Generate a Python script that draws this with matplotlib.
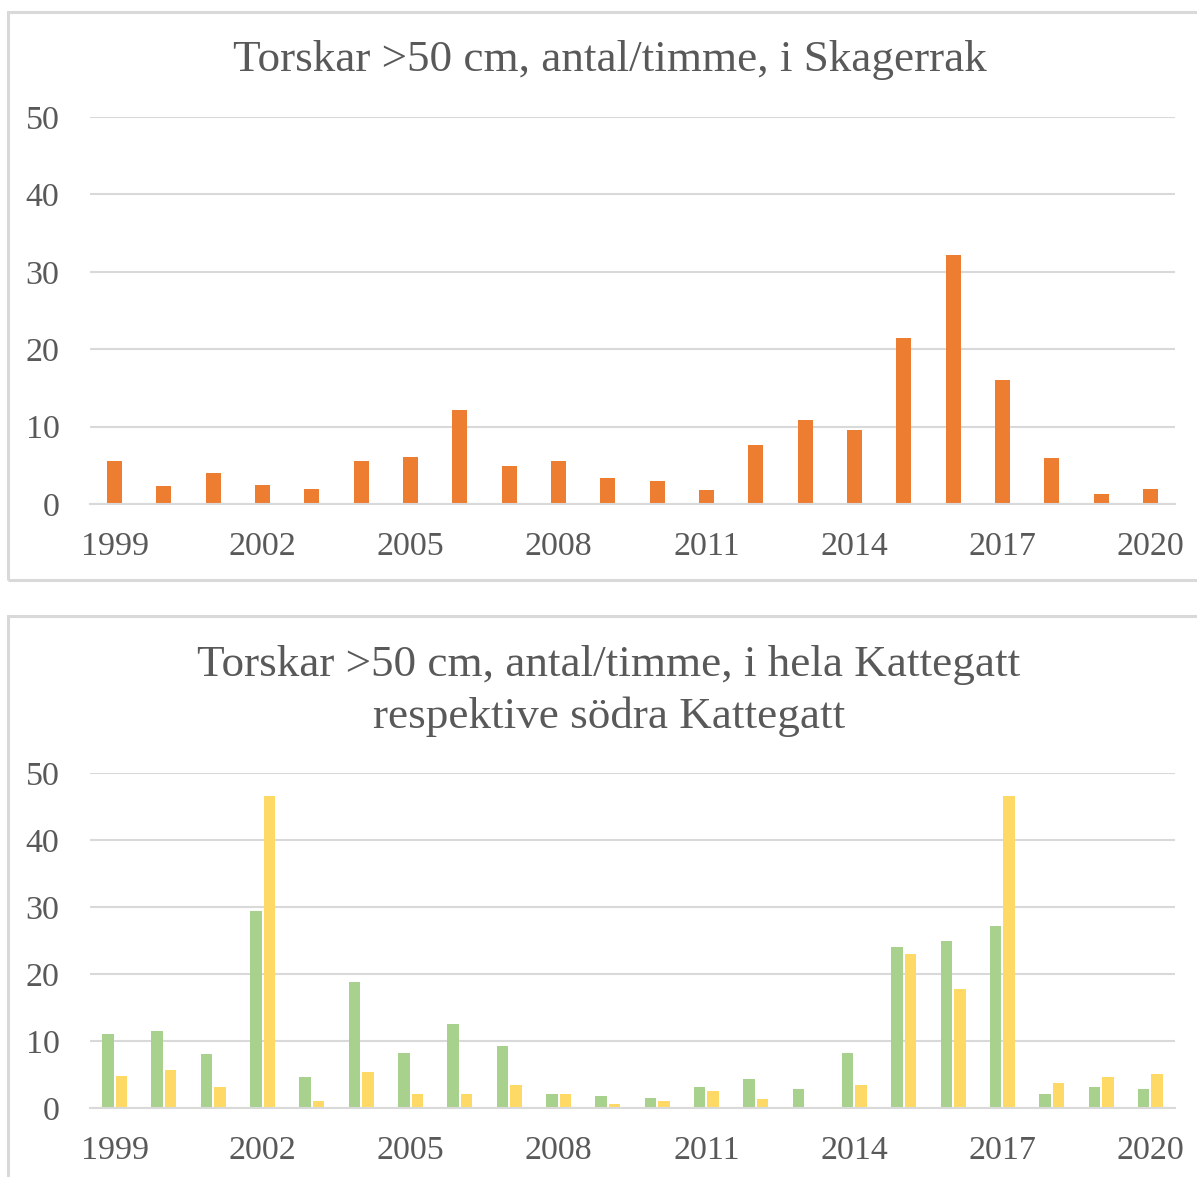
import numpy as np
import matplotlib
matplotlib.use("Agg")
import matplotlib.pyplot as plt
from matplotlib.patches import Rectangle

# data
years = list(range(1999, 2021))
skagerrak = [5.6, 2.3, 4.0, 2.5, 2.0, 5.6, 6.1, 12.2, 4.9, 5.6, 3.4,
             3.0, 1.8, 7.6, 10.9, 9.5, 21.4, 32.2, 16.0, 5.9, 1.3, 2.0]
kattegatt_hela = [11.0, 11.5, 8.0, 29.4, 4.6, 18.8, 8.2, 12.6, 9.3, 2.1, 1.8,
                  1.5, 3.2, 4.3, 2.9, 8.2, 24.1, 24.9, 27.2, 2.1, 3.2, 2.9]
kattegatt_sodra = [4.8, 5.7, 3.2, 46.5, 1.0, 5.4, 2.1, 2.1, 3.5, 2.1, 0.6,
                   1.0, 2.6, 1.3, 0.15, 3.5, 23.0, 17.7, 46.5, 3.7, 4.6, 5.1]
yticks = [0, 10, 20, 30, 40, 50]
title_top = "Torskar >50 cm, antal/timme, i Skagerrak"
title_bottom = ["Torskar >50 cm, antal/timme, i hela Kattegatt",
                "respektive södra Kattegatt"]

W, H = 1197, 1177
TEXT = "#595959"
GRID = "#d9d9d9"
plt.rcParams['font.family'] = ['Liberation Serif', 'DejaVu Serif']

fig = plt.figure(figsize=(W / 100, H / 100), dpi=100)


def fx(px):
    return px / W


def fy(py):
    return 1 - py / H


# panel borders
for x0, y0, x1, y1 in [(8, 12, 1213, 580), (8, 616, 1213, 1190)]:
    fig.patches.append(Rectangle((fx(x0), fy(y1)), fx(x1 - x0), (y1 - y0) / H,
                                 transform=fig.transFigure, fill=False,
                                 edgecolor=GRID, linewidth=2.2))


def style_axes(ax):
    x = np.arange(len(years))
    ax.set_xlim(-0.5, len(years) - 0.5)
    ax.set_ylim(0, 50)
    ax.set_yticks(yticks)
    ax.set_xticks(x[::3])
    ax.set_xticklabels([str(y) for y in years[::3]])
    ax.grid(axis='y', color=GRID, linewidth=1.5)
    ax.set_axisbelow(True)
    for s in ['top', 'right', 'left']:
        ax.spines[s].set_visible(False)
    ax.spines['bottom'].set_color(GRID)
    ax.spines['bottom'].set_linewidth(1.5)
    ax.tick_params(axis='both', length=0, labelsize=24.5, colors=TEXT)
    ax.tick_params(axis='x', pad=20)
    ax.tick_params(axis='y', pad=22)


x = np.arange(len(years))

# top chart
ax1 = fig.add_axes([fx(90), fy(504), fx(1175 - 90), (504 - 117) / H])
ax1.bar(x, skagerrak, width=0.305, color="#ED7D31")
style_axes(ax1)
fig.text(fx(610), fy(71), title_top, ha='center', va='baseline',
         fontsize=32.5, color=TEXT)

# bottom chart
ax2 = fig.add_axes([fx(90), fy(1108), fx(1175 - 90), (1108 - 773) / H])
bw = 0.233
off = bw / 2 + 0.02
ax2.bar(x - off, kattegatt_hela, width=bw, color="#A9D18E")
ax2.bar(x + off, kattegatt_sodra, width=bw, color="#FFD966")
style_axes(ax2)
fig.text(fx(609), fy(676), title_bottom[0], ha='center', va='baseline',
         fontsize=32.5, color=TEXT)
fig.text(fx(609), fy(728), title_bottom[1], ha='center', va='baseline',
         fontsize=32.5, color=TEXT)

fig.savefig("out.png", dpi=100)
